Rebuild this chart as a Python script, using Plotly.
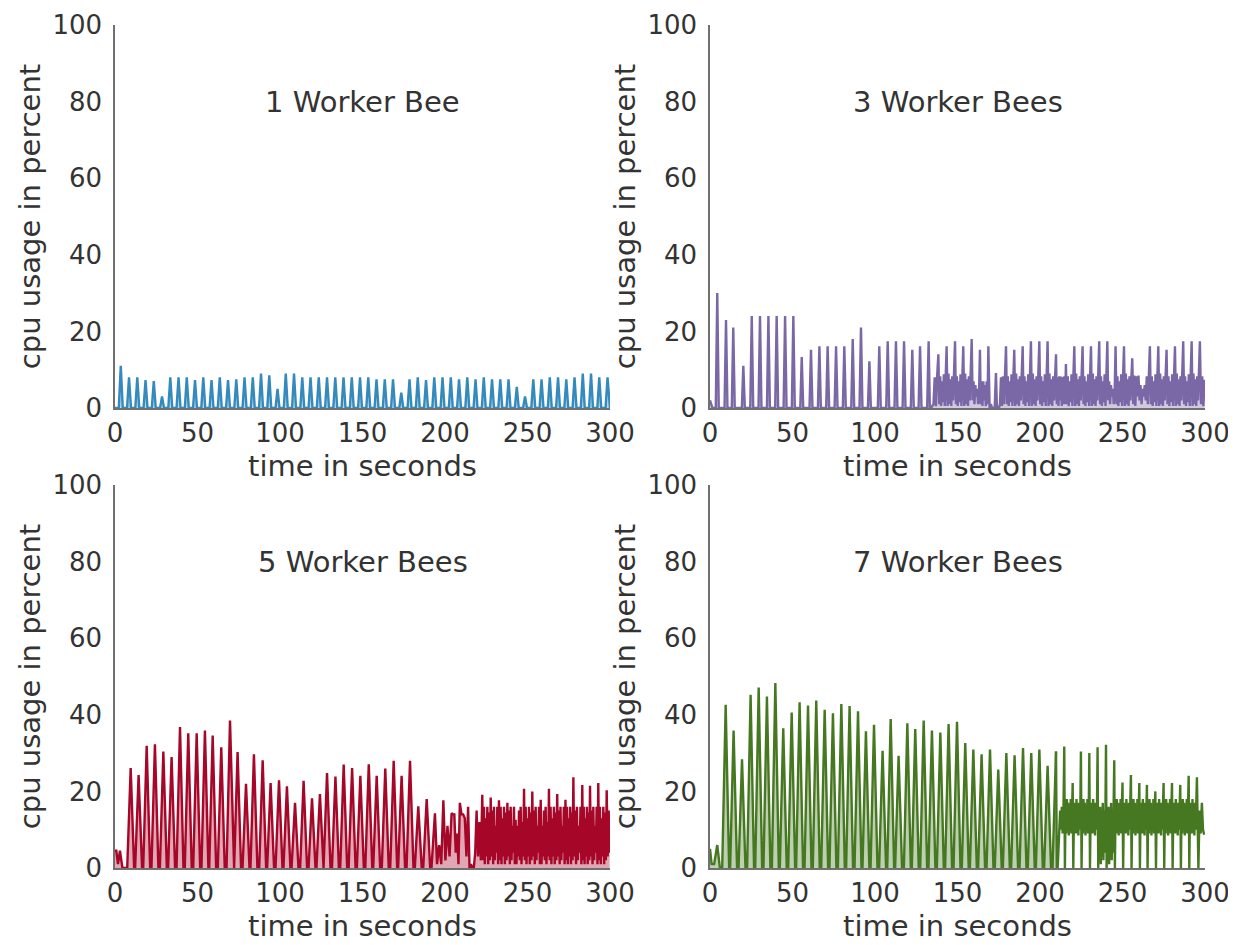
import plotly.graph_objects as go

# ---------------- data ----------------
time_ticks = [0, 50, 100, 150, 200, 250, 300]
cpu_ticks = [0, 20, 40, 60, 80, 100]
panel_titles = ["1 Worker Bee", "3 Worker Bees", "5 Worker Bees", "7 Worker Bees"]
x_title = "time in seconds"
y_title = "cpu usage in percent"

# 1 worker bee
head_t_1 = [0]
head_v_1 = [0]
peak_t_1 = [3.5, 8.5, 13.5, 18.5, 23.5, 28.5, 33.5, 38.5, 43.5, 48.5,
            53.5, 58.5, 63.5, 68.5, 73.5, 78.5, 83.5, 88.5, 93.5, 98.5,
            103.5, 108.5, 113.5, 118.5, 123.5, 128.5, 133.5, 138.5, 143.5, 148.5,
            153.5, 158.5, 163.5, 168.5, 173.5, 178.5, 183.5, 188.5, 193.5, 198.5,
            203.5, 208.5, 213.5, 218.5, 223.5, 228.5, 233.5, 238.5, 243.5, 248.5,
            253.5, 258.5, 263.5, 268.5, 273.5, 278.5, 283.5, 288.5, 293.5, 298.5]
peak_v_1 = [11, 8, 8, 7.3, 7, 3, 8, 8, 8, 7.3,
            8, 7.3, 8, 7.3, 7.5, 8, 8, 9, 8.5, 5,
            9, 9, 8, 8, 8, 8, 8, 8, 8, 8,
            8, 7.5, 7.5, 7.5, 4, 7.5, 8, 7.3, 8, 8,
            8, 7.5, 8, 7.5, 8, 7.5, 7.5, 7.5, 5.5, 3,
            7.5, 7.5, 8, 8, 7.5, 8, 9, 9, 8, 8]
dense_start_1 = None
dense_v_1 = []
tail_t_1 = [300]
tail_v_1 = [0]

# 3 worker bees
head_t_2 = [0, 1.5]
head_v_2 = [2, 0]
peak_t_2 = [4.4, 9.7, 14.1, 20.2, 25.3, 30.3, 35.4, 40.4, 45.5, 50.5,
            55.6, 61.2, 66.3, 71.3, 76.4, 81.4, 86.5, 91.5, 96.6, 102.6,
            107.7, 112.7, 117.6, 122.6, 127.3, 132.5, 138.4, 143.4, 148.5, 153.5,
            158.6, 163.6, 168.7, 173.3, 179.4, 184.4, 189.5, 194.5, 199.6, 204.6,
            209.7, 215.7, 220.8, 225.8, 230.9, 235.9, 240.8, 245.8, 250.9, 255.9,
            266.6, 271.7, 276.7, 281.8, 286.8, 291.9, 296.9]
peak_v_2 = [30, 23, 21, 11, 24, 24, 24, 24, 24, 24,
            13.3, 15.2, 16.1, 16.1, 16.1, 16.1, 18, 21, 12.2, 16.1,
            17.4, 17.4, 17.4, 15.2, 16.1, 17.4, 14, 16.1, 17.4, 16.1,
            18, 15.2, 16.1, 9.1, 16.1, 15.2, 16.1, 17.4, 17.4, 17.4,
            14, 11.5, 16.1, 16.1, 16.1, 17.4, 17.4, 16.1, 16.1, 13,
            16.1, 16.1, 15.2, 16.1, 17.4, 17.4, 17.4]
band_2a = [1, 8.3, 0.5, 7, 1.5, 8.8, 0.5, 8.2]
band_2b = [0.5, 9, 1, 7.5, 0.5, 8.3, 2, 8]
band_2c = [2, 7, 1, 6, 3, 5, 1, 4]
dense_start_2 = 25
dense_v_2 = [[0, 0, 0.5, 1, 8, 0.5, 8.3], band_2a, band_2b, band_2a, band_2b,
             band_2c, [1, 7, 0.5, 7, 2, 6, 0.5, 7, 1], [0, 1, 0, 0, 0], [0, 0, 0, 1, 8, 0.5, 8.3, 1, 8],
             band_2a, band_2b, band_2a, band_2b, band_2a, band_2b,
             [1, 8, 0.5, 8.3, 2, 8.2, 0.5, 8, 1, 8.3, 1], band_2a, band_2b, band_2a, band_2b,
             band_2a, band_2c, band_2a, band_2b,
             [1, 8.5, 0.5, 8.3, 3, 8.5, 2, 6, 1, 5, 3, 6, 2, 8.3, 1, 8], band_2a, band_2b, band_2a,
             band_2b, band_2a, band_2b]
tail_t_2 = [297.6, 298.3, 299.0, 299.8]
tail_v_2 = [1, 8.3, 0.5, 7.4]

# 5 worker bees
head_t_3 = [0, 0.8, 1.8, 3.0, 4.5]
head_v_3 = [4.5, 4.5, 1, 4.5, 0]
peak_t_3 = [9.5, 14.3, 19.2, 24.2, 29.3, 34.3, 39.4, 44.4, 49.5, 54.5,
            59.2, 64.4, 69.7, 74.3, 79.4, 84.2, 89.5, 94.3, 99.4, 104.2,
            109.1, 114.3, 119.4, 124.2, 128.5, 133.6, 138.6, 143.7, 148.7, 153.8,
            158.6, 163.8, 168.9, 173.7, 178.8, 183.8, 188.9, 193.9, 199, 204,
            209, 214, 222.6, 227.7, 232.7, 237.8, 242.8, 247.9, 252.9, 258,
            263, 268, 273, 277.8, 283.2, 287.9, 292.9, 298]
peak_v_3 = [26.1, 24.3, 31.9, 32.3, 30.4, 29, 36.8, 35.2, 35.2, 35.9,
            34.6, 31.5, 38.5, 30.3, 22, 29.7, 28.1, 22.2, 22.9, 21.3,
            17, 22.8, 18.2, 19.3, 24.8, 23.9, 27, 26.1, 24.1, 27.1,
            24.1, 26, 28, 24.1, 28, 16.1, 18, 14.3, 17.7, 14.3,
            17, 16, 19.1, 18.4, 17.7, 17, 12.6, 20.7, 20, 17.8,
            20.7, 19.3, 17.8, 23.7, 21.7, 21.5, 22.2, 20.3]
band_3a = [2, 16, 1, 13, 3, 16, 1, 14.5, 2]
band_3b = [3, 15, 1, 16, 2, 11, 4, 16, 1]
band_3c = [1, 11, 3, 15, 2, 16, 1, 12, 3]
dense_start_3 = 37
dense_v_3 = [[1, 6, 1], [2, 11, 3], [14, 14, 4, 9, 1], [14, 14, 13, 3], [0, 1, 0, 0, 4, 15, 3, 12, 2],
             band_3a, band_3b, band_3a, band_3b, band_3c,
             band_3a, band_3b, band_3c, band_3a, band_3b,
             band_3a, band_3b, band_3a, band_3b, band_3a]
tail_t_3 = [298.6, 299.2, 299.8]
tail_v_3 = [3, 15, 4]

# 7 worker bees
head_t_4 = [0, 1, 2.5, 4.4, 6]
head_v_4 = [5, 1, 1, 6, 0]
peak_t_4 = [9.5, 14.3, 19.4, 24.6, 29.5, 34.5, 39.6, 44.4, 49.5, 54.3,
            59.4, 64.4, 69.5, 74.5, 79.6, 84.6, 89.7, 94.5, 99.4, 104.6,
            109.5, 114.3, 119.6, 124.4, 129.5, 134.5, 139.6, 144.6, 149.7, 154.7,
            159.6, 164.6, 169.7, 174.7, 179.6, 184.6, 189.7, 194.7, 199.6, 204.6,
            209.7, 214.7, 219.8, 224.8, 229.9, 234.9, 240, 245, 250, 255.1,
            260.2, 264.8, 269.9, 274.9, 280, 285, 290.1, 295.1]
peak_v_4 = [42.6, 35.9, 28.4, 45.2, 47.1, 44.8, 48.3, 36.5, 40.6, 43.3,
            42.4, 43.7, 41.3, 40.4, 42.8, 42.3, 40.9, 35.7, 37.4, 30.6,
            38.9, 29.3, 37.8, 36.3, 38.5, 35.9, 35.4, 37.6, 38.2, 32.6,
            30.9, 29.7, 30.9, 25.7, 30, 29.4, 31.3, 30, 30.9, 26.7,
            30.4, 31.7, 22.2, 30.4, 30, 31.5, 32.2, 28.1, 22.3, 24.3,
            22.2, 21.7, 20, 22.2, 22.2, 21.7, 24.1, 23.7]
band_4a = [0, 15, 9, 18, 10, 17, 8.5, 16, 10, 18, 9, 14]
band_4b = [0, 14, 10, 17, 9, 18, 10, 15, 8.5, 17, 10, 15]
band_4c = [0, 12, 3, 16, 1, 14, 5, 17, 2, 15, 4, 13]
dense_start_4 = 40
dense_v_4 = [[0, 0, 4, 11, 15, 10, 16, 9, 14], band_4a, band_4b, band_4a, band_4b,
             band_4c, band_4c, band_4a, band_4b, band_4a, band_4b, band_4a,
             band_4b, band_4a, band_4b, band_4a, band_4b]
tail_t_4 = [296.0, 296.7, 297.4, 298.1, 298.8, 299.5]
tail_v_4 = [0, 15, 9, 17, 10, 8.7]

# ---------------- styling ----------------
COLORS = ["#348ABD", "#7A68A6", "#A60628", "#467821"]
FILLS = ["rgba(52,138,189,0.35)", "rgba(122,104,166,0.35)",
         "rgba(166,6,40,0.35)", "rgba(70,120,33,0.35)"]
FILL_DENSE = [True, True, True, False]
HALF_WIDTH = [1.2, 0.9, 2.1, 2.1]
FONT = "DejaVu Sans"
TXT = "#333333"
W, H = 1236, 945
PAGE_OFFSET = 8  # default body margin of the html page


def build(head_t, head_v, peak_t, peak_v, w, dense_start, dense_v, tail_t, tail_v):
    xs, ys = list(head_t), list(head_v)
    split = None
    n = len(peak_t)
    for i in range(n):
        t, v = peak_t[i], peak_v[i]
        prev_dense = dense_start is not None and i - 1 >= dense_start
        if not prev_dense:
            xs.append(t - w)
            ys.append(0)
        xs.append(t)
        ys.append(v)
        if dense_start is not None and i == dense_start:
            split = len(xs)
        if i < n - 1 and dense_start is not None and i >= dense_start:
            vals = dense_v[i - dense_start]
            t2 = peak_t[i + 1]
            for j, val in enumerate(vals):
                xs.append(t + (t2 - t) * (j + 1) / (len(vals) + 1))
                ys.append(val)
        elif i < n - 1 or not tail_t:
            xs.append(t + w)
            ys.append(0)
    xs += list(tail_t)
    ys += list(tail_v)
    return xs, ys, split


series = [
    build(head_t_1, head_v_1, peak_t_1, peak_v_1, HALF_WIDTH[0], dense_start_1, dense_v_1, tail_t_1, tail_v_1),
    build(head_t_2, head_v_2, peak_t_2, peak_v_2, HALF_WIDTH[1], dense_start_2, dense_v_2, tail_t_2, tail_v_2),
    build(head_t_3, head_v_3, peak_t_3, peak_v_3, HALF_WIDTH[2], dense_start_3, dense_v_3, tail_t_3, tail_v_3),
    build(head_t_4, head_v_4, peak_t_4, peak_v_4, HALF_WIDTH[3], dense_start_4, dense_v_4, tail_t_4, tail_v_4),
]

# plot areas in page pixels: (left, right, top, bottom)
boxes = [(115, 610, 25, 408), (710, 1205, 25, 408),
         (115, 610, 485, 868), (710, 1205, 485, 868)]

fig = go.Figure()
layout = dict(
    width=W, height=H,
    margin=dict(l=0, r=0, t=0, b=0),
    paper_bgcolor="white", plot_bgcolor="white",
    showlegend=False,
    font=dict(family=FONT, size=26, color=TXT),
)
annotations = []
for k in range(4):
    sfx = "" if k == 0 else str(k + 1)
    xs, ys, split = series[k]
    if FILL_DENSE[k] or split is None:
        parts = [(xs, ys, True)]
    else:
        parts = [(xs[:split], ys[:split], True), (xs[split - 1:], ys[split - 1:], False)]
    for px, py, filled in parts:
        fig.add_trace(go.Scatter(
            x=px, y=py, mode="lines",
            line=dict(color=COLORS[k], width=2.4),
            fill="tozeroy" if filled else None,
            fillcolor=FILLS[k] if filled else None,
            xaxis="x" + sfx, yaxis="y" + sfx, hoverinfo="skip",
        ))
    l, r, t, b = [v - PAGE_OFFSET for v in boxes[k]]
    layout["xaxis" + sfx] = dict(
        domain=[l / W, r / W], range=[0, 300], anchor="y" + sfx,
        tickvals=time_ticks, ticktext=[str(v) for v in time_ticks],
        showgrid=False, zeroline=False, ticks="",
        showline=True, linecolor="#707070", linewidth=1.5,
        tickfont=dict(family=FONT, size=26, color=TXT),
        ticklabelstandoff=1,
        title=dict(text=x_title, standoff=9, font=dict(family=FONT, size=29, color=TXT)),
        automargin=False,
    )
    layout["yaxis" + sfx] = dict(
        domain=[1 - b / H, 1 - t / H], range=[0, 100], anchor="x" + sfx,
        tickvals=cpu_ticks, ticktext=[str(v) for v in cpu_ticks],
        showgrid=False, zeroline=False, ticks="",
        showline=True, linecolor="#707070", linewidth=1.5,
        tickfont=dict(family=FONT, size=26, color=TXT),
        ticklabelstandoff=6,
        title=dict(text=y_title, standoff=3, font=dict(family=FONT, size=29, color=TXT)),
        automargin=False,
    )
    annotations.append(dict(
        text=panel_titles[k], x=150, y=80, xref="x" + sfx, yref="y" + sfx,
        showarrow=False, xanchor="center", yanchor="middle",
        font=dict(family=FONT, size=29, color=TXT),
    ))
layout["annotations"] = annotations
fig.update_layout(**layout)
fig.write_html("out.html")
